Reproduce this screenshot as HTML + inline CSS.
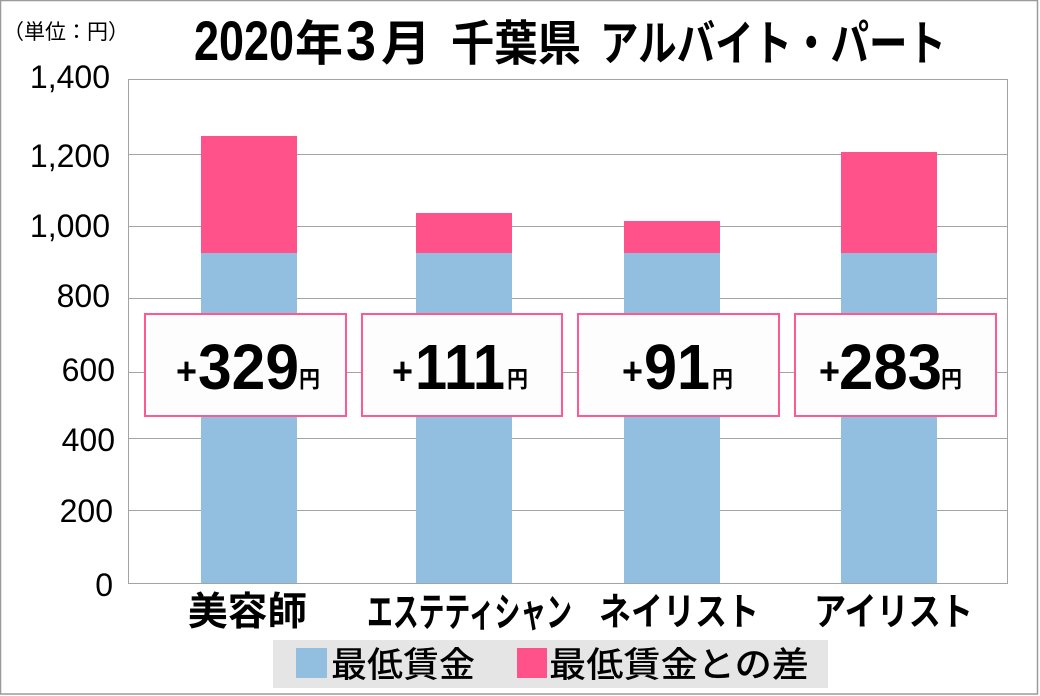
<!DOCTYPE html>
<html>
<head>
<meta charset="utf-8">
<style>
  html,body{margin:0;padding:0;background:#fff;}
  body{width:1040px;height:696px;overflow:hidden;}
  svg{display:block;}
  .cjk{font-family:"Liberation Sans","Noto Sans CJK JP",sans-serif;}
  .lat{font-family:"Liberation Sans",sans-serif;}
</style>
</head>
<body>
<svg width="1040" height="696" viewBox="0 0 1040 696" xmlns="http://www.w3.org/2000/svg">
  <!-- outer frame -->
  <rect x="0.5" y="0.5" width="1037" height="693.5" fill="#fff" stroke="#9a9a9a" stroke-width="1.5"/>

  <!-- unit label -->
  <text class="cjk" x="3" y="39" font-size="21" fill="#000">（単位：円）</text>

  <!-- title -->
  <g font-weight="bold" fill="#000">
    <text class="lat" x="194" y="60" font-size="56" textLength="100" lengthAdjust="spacingAndGlyphs">2020</text>
    <text class="cjk" x="295" y="60" font-size="48" textLength="48" lengthAdjust="spacingAndGlyphs">年</text>
    <text class="lat" x="346" y="60" font-size="56" textLength="30" lengthAdjust="spacingAndGlyphs">3</text>
    <text class="cjk" x="381" y="60" font-size="48" textLength="50" lengthAdjust="spacingAndGlyphs">月</text>
    <text class="cjk" x="451" y="60" font-size="48" textLength="130" lengthAdjust="spacingAndGlyphs">千葉県</text>
    <text class="cjk" x="600" y="60" font-size="48" textLength="346" lengthAdjust="spacingAndGlyphs">アルバイト・パート</text>
  </g>

  <!-- gridlines -->
  <g stroke="#a3a3a3" stroke-width="1" shape-rendering="crispEdges">
    <line x1="128" y1="79.5" x2="1007" y2="79.5"/>
    <line x1="128" y1="154.5" x2="1007" y2="154.5"/>
    <line x1="128" y1="226.5" x2="1007" y2="226.5"/>
    <line x1="128" y1="298.5" x2="1007" y2="298.5"/>
    <line x1="128" y1="372.5" x2="1007" y2="372.5"/>
    <line x1="128" y1="438.5" x2="1007" y2="438.5"/>
    <line x1="128" y1="510.5" x2="1007" y2="510.5"/>
    <line x1="128" y1="583.5" x2="1007" y2="583.5"/>
    <line x1="128.5" y1="79" x2="128.5" y2="584"/>
    <line x1="1007.5" y1="79" x2="1007.5" y2="584"/>
  </g>

  <!-- y labels -->
  <g class="lat" font-size="32" fill="#000" text-anchor="end">
    <text x="110" y="88">1,400</text>
    <text x="110" y="167">1,200</text>
    <text x="110" y="237">1,000</text>
    <text x="110" y="307">800</text>
    <text x="115" y="381">600</text>
    <text x="115" y="451">400</text>
    <text x="113" y="522">200</text>
    <text x="113" y="596">0</text>
  </g>

  <!-- bars -->
  <g shape-rendering="crispEdges">
    <rect x="201" y="253" width="96" height="330" fill="#92bedf"/>
    <rect x="201" y="136" width="96" height="117" fill="#ff528a"/>
    <rect x="416" y="253" width="96" height="330" fill="#92bedf"/>
    <rect x="416" y="213" width="96" height="40" fill="#ff528a"/>
    <rect x="624" y="253" width="96" height="330" fill="#92bedf"/>
    <rect x="624" y="221" width="96" height="32" fill="#ff528a"/>
    <rect x="841" y="253" width="96" height="330" fill="#92bedf"/>
    <rect x="841" y="152" width="96" height="101" fill="#ff528a"/>
  </g>

  <!-- value boxes -->
  <g fill="#fdfdfd" stroke="#ff5a8f" stroke-width="2">
    <rect x="145" y="314" width="201" height="102"/>
    <rect x="362" y="314" width="200" height="102"/>
    <rect x="578" y="314" width="201" height="102"/>
    <rect x="795" y="314" width="201" height="102"/>
  </g>
  <g font-weight="bold" fill="#000">
    <!-- box 1 -->
    <text class="lat" x="176" y="384" font-size="38" textLength="21" lengthAdjust="spacingAndGlyphs">+</text>
    <text class="lat" x="198" y="389" font-size="64" textLength="101" lengthAdjust="spacingAndGlyphs">329</text>
    <text class="cjk" x="299" y="387" font-size="23" textLength="21" lengthAdjust="spacingAndGlyphs">円</text>
    <!-- box 2 -->
    <text class="lat" x="392" y="384" font-size="38" textLength="21" lengthAdjust="spacingAndGlyphs">+</text>
    <text class="lat" x="415" y="389" font-size="64" textLength="90" lengthAdjust="spacingAndGlyphs">111</text>
    <text class="cjk" x="507" y="387" font-size="23" textLength="21" lengthAdjust="spacingAndGlyphs">円</text>
    <!-- box 3 -->
    <text class="lat" x="622" y="384" font-size="38" textLength="21" lengthAdjust="spacingAndGlyphs">+</text>
    <text class="lat" x="644" y="389" font-size="64" textLength="66" lengthAdjust="spacingAndGlyphs">91</text>
    <text class="cjk" x="712" y="387" font-size="23" textLength="21" lengthAdjust="spacingAndGlyphs">円</text>
    <!-- box 4 -->
    <text class="lat" x="819" y="384" font-size="38" textLength="21" lengthAdjust="spacingAndGlyphs">+</text>
    <text class="lat" x="839" y="389" font-size="64" textLength="103" lengthAdjust="spacingAndGlyphs">283</text>
    <text class="cjk" x="941" y="387" font-size="23" textLength="21" lengthAdjust="spacingAndGlyphs">円</text>
  </g>

  <!-- x labels -->
  <g class="cjk" font-weight="bold" fill="#000">
    <text x="188" y="625" font-size="39" textLength="119" lengthAdjust="spacingAndGlyphs">美容師</text>
    <text x="367" y="626" font-size="40" textLength="205" lengthAdjust="spacingAndGlyphs">エステティシャン</text>
    <text x="599" y="625" font-size="38" textLength="160" lengthAdjust="spacingAndGlyphs">ネイリスト</text>
    <text x="814" y="625" font-size="38" textLength="159" lengthAdjust="spacingAndGlyphs">アイリスト</text>
  </g>

  <!-- legend -->
  <rect x="273" y="640" width="555" height="48" fill="#e5e5e5" shape-rendering="crispEdges"/>
  <rect x="296" y="648" width="31" height="30" fill="#92bedf" shape-rendering="crispEdges"/>
  <rect x="517" y="648" width="30" height="30" fill="#ff528a" shape-rendering="crispEdges"/>
  <g class="cjk" font-weight="500" fill="#000">
    <text x="331" y="677" font-size="35" textLength="144" lengthAdjust="spacingAndGlyphs">最低賃金</text>
    <text x="549" y="677" font-size="35" textLength="260" lengthAdjust="spacingAndGlyphs">最低賃金との差</text>
  </g>
</svg>
</body>
</html>
